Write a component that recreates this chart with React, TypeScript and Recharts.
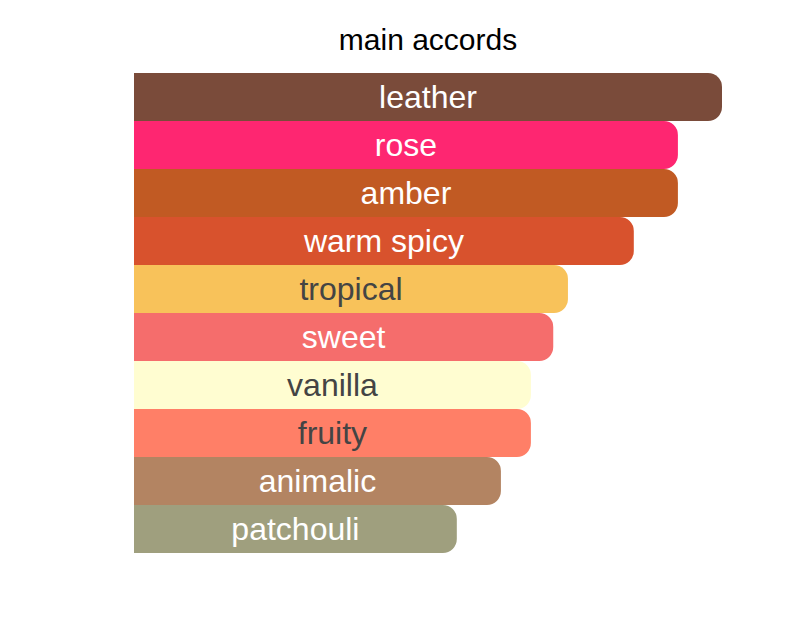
import React from "react";
import { BarChart, Bar, XAxis, YAxis, Cell, LabelList } from "recharts";

const accords = ["leather", "rose", "amber", "warm spicy", "tropical", "sweet", "vanilla", "fruity", "animalic", "patchouli"];
const values = [100, 92.5, 92.5, 85, 73.8, 71.3, 67.5, 67.5, 62.4, 54.9];
const barColors = ["#7A4B3A", "#FE2671", "#C15A23", "#D8522D", "#F8C25A", "#F56D6C", "#FFFDD1", "#FF7F67", "#B38462", "#9F9F7E"];
const textColors = ["#FFFFFF", "#FFFFFF", "#FFFFFF", "#FFFFFF", "#444444", "#FFFFFF", "#444444", "#444444", "#FFFFFF", "#FFFFFF"];

const data = accords.map((name, i) => ({ name, value: values[i], fill: barColors[i], text: textColors[i] }));

const font = "'Liberation Sans', Arial, Helvetica, sans-serif";

const renderLabel = (props: any) => {
  const { x, y, width, height, index } = props;
  return (
    <text
      x={x + width / 2}
      y={y + height / 2}
      textAnchor="middle"
      dominantBaseline="central"
      fill={textColors[index]}
      fontSize={32}
      fontFamily={font}
    >
      {accords[index]}
    </text>
  );
};

export default function App() {
  return (
    <div style={{ position: "absolute", left: 0, top: 0, width: 796, height: 638, background: "#fff" }}>
      <div
        style={{
          position: "absolute",
          left: 134,
          width: 588,
          top: 22,
          textAlign: "center",
          fontFamily: font,
          fontSize: 30,
          color: "#000",
          lineHeight: "36px",
        }}
      >
        main accords
      </div>
      <BarChart
        width={796}
        height={638}
        data={data}
        layout="vertical"
        margin={{ top: 73, right: 74, bottom: 85, left: 134 }}
        barCategoryGap={0}
      >
        <XAxis type="number" domain={[0, 100]} hide />
        <YAxis type="category" dataKey="name" hide />
        <Bar dataKey="value" radius={[0, 14, 14, 0]} isAnimationActive={false}>
          {data.map((d, i) => (
            <Cell key={i} fill={d.fill} />
          ))}
          <LabelList dataKey="name" content={renderLabel} />
        </Bar>
      </BarChart>
    </div>
  );
}
